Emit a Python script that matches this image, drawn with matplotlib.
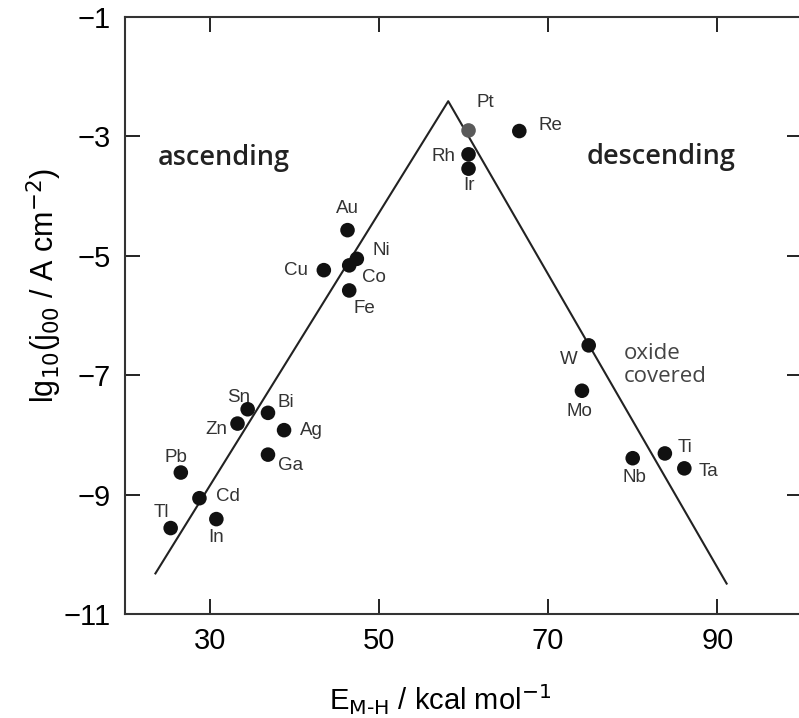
import matplotlib
matplotlib.use("Agg")
import matplotlib.pyplot as plt

# metal-hydrogen bond energy (kcal/mol) and log exchange current density
elements = ['Tl', 'Cd', 'In', 'Pb', 'Zn', 'Sn', 'Bi', 'Ag', 'Ga',
            'Au', 'Ni', 'Co', 'Cu', 'Fe',
            'Pt', 'Rh', 'Ir', 'Re',
            'W', 'Mo', 'Nb', 'Ti', 'Ta']
e_mh = [25.4, 28.8, 30.8, 26.6, 33.3, 34.5, 36.9, 38.8, 36.9,
        46.3, 47.4, 46.5, 43.5, 46.5,
        60.6, 60.6, 60.6, 66.6,
        74.8, 74.0, 80.0, 83.8, 86.1]
lg_j = [-9.56, -9.06, -9.41, -8.63, -7.81, -7.57, -7.63, -7.92, -8.33,
        -4.57, -5.05, -5.16, -5.24, -5.58,
        -2.90, -3.30, -3.54, -2.91,
        -6.50, -7.26, -8.39, -8.31, -8.56]

# volcano lines
volcano_x = [23.6, 58.2, 91.1]
volcano_y = [-10.32, -2.41, -10.49]

x_ticks = [30, 50, 70, 90]
y_ticks = [-1, -3, -5, -7, -9, -11]

# label offsets in pixels (right, up) relative to the dot
label_offsets = {
    'Tl': (-9, 16), 'Cd': (29, 2), 'In': (0, -18), 'Pb': (-5, 15),
    'Zn': (-21, -6), 'Sn': (-9, 12), 'Bi': (18, 10), 'Ag': (27, 0),
    'Ga': (23, -11), 'Au': (0, 22), 'Ni': (24, 8), 'Co': (25, -12),
    'Cu': (-28, 0), 'Fe': (15, -18), 'Pt': (17, 28), 'Rh': (-25, -2),
    'Ir': (0, -17), 'Re': (31, 6), 'W': (-20, -14), 'Mo': (-2, -21),
    'Nb': (2, -19), 'Ti': (20, 6), 'Ta': (24, -3),
}

plt.rcParams['font.family'] = ['Liberation Sans', 'DejaVu Sans']

fig = plt.figure(figsize=(7.99, 7.18), dpi=100)
ax = fig.add_axes([0.1564, 0.1448, 0.8473, 0.8315])

ax.plot(volcano_x, volcano_y, color='#222222', lw=1.5, zorder=2)

colors = ['#5a5a5a' if el == 'Pt' else '#111111' for el in elements]
ax.scatter(e_mh, lg_j, s=110, c=colors, edgecolors='none', zorder=3)

for el, x, y in zip(elements, e_mh, lg_j):
    dx, dy = label_offsets[el]
    ax.annotate(el, (x, y), xytext=(dx * 0.72, dy * 0.72),
                textcoords='offset points', ha='center', va='center',
                fontsize=13.5, color='#333333')

ax.text(31.7, -3.36, 'ascending', fontsize=19.5, fontweight='semibold',
        family=['Open Sans', 'DejaVu Sans'], color='#222222',
        ha='center', va='center')
ax.text(83.3, -3.34, 'descending', fontsize=19.5, fontweight='semibold',
        family=['Open Sans', 'DejaVu Sans'], color='#222222',
        ha='center', va='center')
ax.text(78.9, -6.83, 'oxide\ncovered', fontsize=16,
        family=['Open Sans', 'DejaVu Sans'], color='#444444',
        ha='left', va='center', linespacing=1.1)

ax.set_xlim(20, 100)
ax.set_ylim(-11, -1)
ax.set_xticks(x_ticks)
ax.set_yticks(y_ticks)
ax.tick_params(direction='in', length=11, width=1.4, color='#222222',
               labelsize=21, top=True, right=True)
ax.tick_params(axis='x', pad=9)
ax.tick_params(axis='y', pad=10)
for sp in ax.spines.values():
    sp.set_linewidth(1.5)
    sp.set_color('#333333')

fig.text(0.551, 0.011, r'E$_{\mathrm{M\text{-}H}}$ / kcal mol$^{\mathrm{-1}}$',
         fontsize=21, ha='center', va='baseline')
fig.text(0.055, 0.603, r'lg$_{\mathrm{10}}$(j$_{\mathrm{00}}$ / A cm$^{\mathrm{-2}}$)',
         fontsize=22, rotation=90, ha='center', va='center')

fig.savefig('out.png', dpi=100)
